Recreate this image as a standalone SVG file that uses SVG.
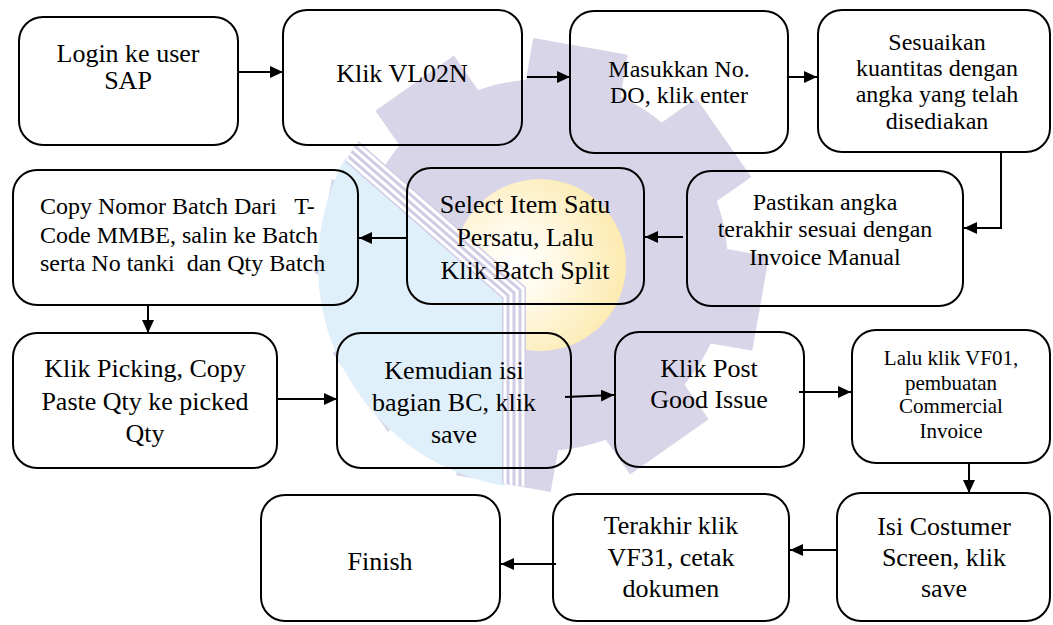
<svg xmlns="http://www.w3.org/2000/svg" width="1053" height="625" viewBox="0 0 1053 625">
<style>
.box{fill:none;stroke:#000;stroke-width:2}
.t{font-family:'Liberation Serif','Tinos','Times New Roman','DejaVu Serif',serif;fill:#000;text-anchor:middle}
.tl{font-family:'Liberation Serif','Tinos','Times New Roman','DejaVu Serif',serif;fill:#000;white-space:pre}
.conn{stroke:#000;stroke-width:2;fill:none;marker-end:url(#arr)}
.stripe{stroke:#fff;stroke-width:3;fill:none}
</style>
<defs>
<marker id="arr" markerUnits="userSpaceOnUse" markerWidth="14" markerHeight="12" refX="13" refY="6" orient="auto">
<path d="M0,0 L13,6 L0,12 z" fill="#000"/>
</marker>
<clipPath id="cGear"><circle cx="542" cy="265" r="222"/></clipPath>
<clipPath id="cBlue"><polygon points="290,110 505,297 505,520 290,520"/></clipPath>
<clipPath id="cYel"><polygon points="290,110 505,297 505,520 800,520 800,0 290,0"/></clipPath>
<radialGradient id="yg" cx="0.35" cy="0.5" r="0.7">
<stop offset="0" stop-color="#ffffff"/>
<stop offset="0.35" stop-color="#fff9e6"/>
<stop offset="1" stop-color="#fce8a8"/>
</radialGradient>
</defs>
<rect width="1053" height="625" fill="#fff"/>
<g id="watermark">
<g fill="#d8d5e9">
<circle cx="542" cy="265" r="186"/>
<g transform="translate(542,265)">
<rect x="-48" y="-222" width="96" height="80" transform="rotate(-35)"/>
<rect x="-48" y="-222" width="96" height="80" transform="rotate(10)"/>
<rect x="-48" y="-222" width="96" height="80" transform="rotate(55)"/>
<rect x="-48" y="-222" width="96" height="80" transform="rotate(100)"/>
<rect x="-48" y="-222" width="96" height="80" transform="rotate(145)"/>
<rect x="-48" y="-222" width="96" height="80" transform="rotate(190)"/>
<rect x="-48" y="-222" width="96" height="80" transform="rotate(235)"/>
<rect x="-48" y="-222" width="96" height="80" transform="rotate(280)"/>
</g>
</g>
<circle cx="542" cy="265" r="224" fill="#e0f0fa" clip-path="url(#cBlue)"/>
<circle cx="540" cy="265" r="86" fill="url(#yg)" clip-path="url(#cYel)"/>
<g clip-path="url(#cGear)">
<path d="M308.7,113.9 L514,292.7 L514,490" stroke="#d0cce4" stroke-width="24" fill="none"/>
<path class="stripe" d="M302.8,120.7 L505,296.8 L505,490"/>
<path class="stripe" d="M306.7,116.2 L511,294.1 L511,490"/>
<path class="stripe" d="M310.7,111.7 L517,291.3 L517,490"/>
<path class="stripe" d="M314.6,107.1 L523,288.6 L523,490"/>
</g>
</g>
<g id="n1">
<rect class="box" x="19" y="17" width="219" height="128" rx="24"/>
<text class="t" font-size="26" x="128" y="62">Login ke user</text>
<text class="t" font-size="26" x="128" y="89">SAP</text>
</g>
<g id="n2">
<rect class="box" x="283" y="10" width="239" height="135" rx="24"/>
<text class="t" font-size="26" x="402" y="82">Klik VL02N</text>
</g>
<g id="n3">
<rect class="box" x="570" y="11" width="218" height="142" rx="24"/>
<text class="t" font-size="24" x="679" y="77">Masukkan No.</text>
<text class="t" font-size="24" x="679" y="103">DO, klik enter</text>
</g>
<g id="n4">
<rect class="box" x="818" y="10" width="232" height="142" rx="24"/>
<text class="t" font-size="24" x="937" y="50">Sesuaikan</text>
<text class="t" font-size="24" x="937" y="76">kuantitas dengan</text>
<text class="t" font-size="24" x="937" y="102">angka yang telah</text>
<text class="t" font-size="24" x="937" y="129">disediakan</text>
</g>
<g id="n5">
<rect class="box" x="687" y="171" width="276" height="135" rx="24"/>
<text class="t" font-size="24" x="825" y="210">Pastikan angka</text>
<text class="t" font-size="24" x="825" y="237">terakhir sesuai dengan</text>
<text class="t" font-size="24" x="825" y="265">Invoice Manual</text>
</g>
<g id="n6">
<rect class="box" x="407" y="168" width="237" height="136" rx="24"/>
<text class="t" font-size="26" x="525" y="213">Select Item Satu</text>
<text class="t" font-size="26" x="525" y="246">Persatu, Lalu</text>
<text class="t" font-size="26" x="525" y="279">Klik Batch Split</text>
</g>
<g id="n7">
<rect class="box" x="13" y="170" width="345" height="135" rx="24"/>
<text class="tl" font-size="24" x="40" y="214">Copy Nomor Batch Dari   T-</text>
<text class="tl" font-size="24" x="40" y="243">Code MMBE, salin ke Batch</text>
<text class="tl" font-size="24" x="40" y="271">serta No tanki  dan Qty Batch</text>
</g>
<g id="n8">
<rect class="box" x="13" y="333" width="264" height="135" rx="24"/>
<text class="t" font-size="26" x="145" y="377">Klik Picking, Copy</text>
<text class="t" font-size="26" x="145" y="410">Paste Qty ke picked</text>
<text class="t" font-size="26" x="145" y="442">Qty</text>
</g>
<g id="n9">
<rect class="box" x="337" y="333" width="234" height="135" rx="24"/>
<text class="t" font-size="26" x="454" y="379">Kemudian isi</text>
<text class="t" font-size="26" x="454" y="411">bagian BC, klik</text>
<text class="t" font-size="26" x="454" y="443">save</text>
</g>
<g id="n10">
<rect class="box" x="615" y="332" width="189" height="135" rx="24"/>
<text class="t" font-size="26" x="709" y="377">Klik Post</text>
<text class="t" font-size="26" x="709" y="408">Good Issue</text>
</g>
<g id="n11">
<rect class="box" x="852" y="330" width="198" height="133" rx="24"/>
<text class="t" font-size="21" x="951" y="365">Lalu klik VF01,</text>
<text class="t" font-size="21" x="951" y="390">pembuatan</text>
<text class="t" font-size="21" x="951" y="413">Commercial</text>
<text class="t" font-size="21" x="951" y="438">Invoice</text>
</g>
<g id="n12">
<rect class="box" x="837" y="493" width="213" height="128" rx="24"/>
<text class="t" font-size="26" x="944" y="535">Isi Costumer</text>
<text class="t" font-size="26" x="944" y="566">Screen, klik</text>
<text class="t" font-size="26" x="944" y="597">save</text>
</g>
<g id="n13">
<rect class="box" x="553" y="494" width="236" height="127" rx="24"/>
<text class="t" font-size="26" x="671" y="534">Terakhir klik</text>
<text class="t" font-size="26" x="671" y="566">VF31, cetak</text>
<text class="t" font-size="26" x="671" y="597">dokumen</text>
</g>
<g id="n14">
<rect class="box" x="261" y="495" width="239" height="126" rx="24"/>
<text class="t" font-size="26" x="380" y="570">Finish</text>
</g>
<g id="connectors">
<path class="conn" d="M239,72 L283,72"/>
<path class="conn" d="M527,77 L570,77"/>
<path class="conn" d="M788,77 L817,77"/>
<path class="conn" d="M1001,152 L1001,228 L964,228"/>
<path class="conn" d="M683,237 L645,237"/>
<path class="conn" d="M407,238 L359,238"/>
<path class="conn" d="M148,305 L148,333"/>
<path class="conn" d="M277,399 L337,399"/>
<path class="conn" d="M565,397 L614,395"/>
<path class="conn" d="M799,392 L851,392"/>
<path class="conn" d="M969,463 L969,493"/>
<path class="conn" d="M837,550 L790,550"/>
<path class="conn" d="M556,564 L501,564"/>
</g>
</svg>
